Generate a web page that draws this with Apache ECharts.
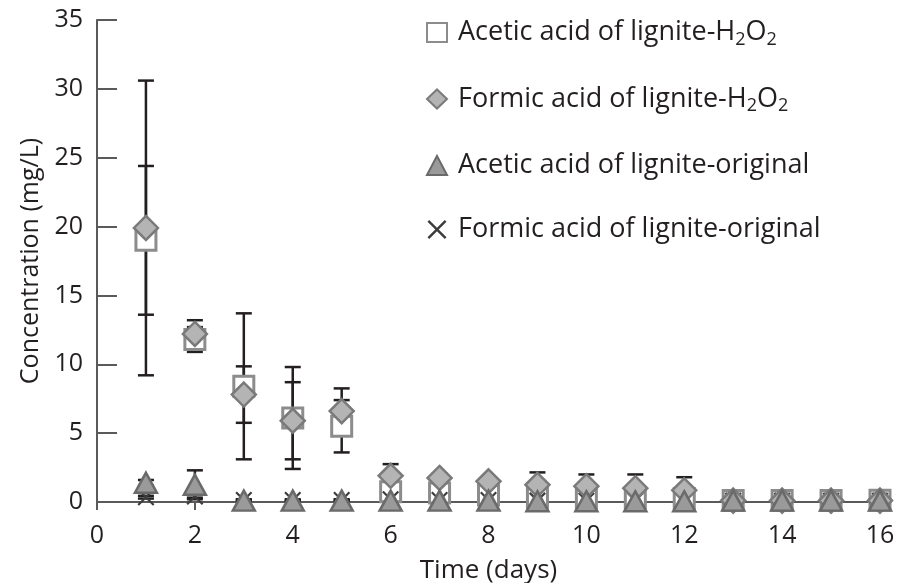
<!DOCTYPE html>
<html>
<head>
<meta charset="utf-8">
<script src="https://cdn.jsdelivr.net/npm/echarts@6/dist/echarts.min.js"></script>
<style>
  html, body { margin: 0; padding: 0; background: #fff; }
  #chart { width: 906px; height: 583px; }
</style>
</head>
<body>
<div id="chart"></div>
<script>
// Sampling days
const days = [1, 2, 3, 4, 5, 6, 7, 8, 9, 10, 11, 12, 13, 14, 15, 16];

// Acetic acid, lignite treated with H2O2 (mean, sd)
const aceticH2O2 = [19.0, 11.8, 8.4, 6.1, 5.5, 0.75, 0.65, 0.5, 0.35, 0.3, 0.3, 0.25, 0.1, 0.1, 0.1, 0.12];
const aceticH2O2Sd = [5.4, 0.9, 5.3, 3.7, 1.9, 0.3, 0.2, 0.2, 0.2, 0.2, 0.2, 0.2, 0.05, 0.05, 0.05, 0.05];

// Formic acid, lignite treated with H2O2 (mean, sd)
const formicH2O2 = [19.9, 12.2, 7.8, 5.9, 6.6, 1.9, 1.75, 1.5, 1.25, 1.15, 1.0, 0.85, 0.1, 0.1, 0.1, 0.1];
const formicH2O2Sd = [10.7, 1.0, 2.05, 2.8, 1.65, 0.85, 0.3, 0.3, 0.9, 0.85, 1.0, 0.95, 0.05, 0.05, 0.05, 0.05];

// Acetic acid, original lignite (mean, sd)
const aceticOrig = [1.4, 1.25, 0.1, 0.1, 0.1, 0.1, 0.1, 0.1, 0.05, 0.05, 0.05, 0.05, 0.1, 0.1, 0.1, 0.1];
const aceticOrigSd = [0.2, 1.05, 0.05, 0.05, 0.05, 0.05, 0.05, 0.05, 0.05, 0.05, 0.05, 0.05, 0.05, 0.05, 0.05, 0.05];

// Formic acid, original lignite (mean, sd)
const formicOrig = [0.35, 0.4, 0.15, 0.15, 0.15, 0.2, 0.15, 0.15, 0.1, 0.1, 0.1, 0.1, 0.1, 0.1, 0.1, 0.1];
const formicOrigSd = [0.1, 0.1, 0.05, 0.05, 0.05, 0.05, 0.05, 0.05, 0.05, 0.05, 0.05, 0.05, 0.05, 0.05, 0.05, 0.05];

// Axis ticks
const xTicks = { min: 0, max: 16, interval: 2 };
const yTicks = { min: 0, max: 35, interval: 5 };

const seriesNames = [
  'Acetic acid of lignite-H2O2',
  'Formic acid of lignite-H2O2',
  'Acetic acid of lignite-original',
  'Formic acid of lignite-original'
];

const FONT = '"Open Sans", "Noto Sans", sans-serif';
const TEXT = '#231f20';

function points(vals) {
  return days.map((d, i) => [d, vals[i]]);
}
function errRows(vals, sd) {
  return days.map((d, i) => [d, vals[i] - sd[i], vals[i] + sd[i]]);
}

function errorBarSeries(vals, sd) {
  return {
    type: 'custom',
    z: 1,
    silent: true,
    data: errRows(vals, sd),
    renderItem: function (params, api) {
      const x = api.value(0);
      const lo = api.coord([x, api.value(1)]);
      const hi = api.coord([x, api.value(2)]);
      const half = 8;
      const style = { stroke: '#231f20', lineWidth: 2.5 };
      return {
        type: 'group',
        children: [
          { type: 'line', shape: { x1: lo[0], y1: lo[1], x2: hi[0], y2: hi[1] }, style: style },
          { type: 'line', shape: { x1: hi[0] - half, y1: hi[1], x2: hi[0] + half, y2: hi[1] }, style: style },
          { type: 'line', shape: { x1: lo[0] - half, y1: lo[1], x2: lo[0] + half, y2: lo[1] }, style: style }
        ]
      };
    },
    encode: { x: 0, y: [1, 2] }
  };
}

const crossPath = 'path://M0,9 L9,0 L50,41 L91,0 L100,9 L59,50 L100,91 L91,100 L50,59 L9,100 L0,91 L41,50 Z';

const chart = echarts.init(document.getElementById('chart'));

chart.setOption({
  backgroundColor: '#ffffff',
  animation: false,
  textStyle: { fontFamily: FONT, color: TEXT },
  grid: { left: 97, right: 26, top: 20, bottom: 81, containLabel: false, outerBoundsMode: 'none' },
  legend: {
    orient: 'vertical',
    left: 421,
    top: 14,
    itemGap: 37,
    itemWidth: 20,
    itemHeight: 19,
    data: seriesNames,
    textStyle: {
      fontFamily: FONT,
      fontSize: 27,
      color: TEXT,
      padding: [0, 0, 0, 6],
      rich: {
        t: { fontFamily: FONT, fontSize: 27, color: TEXT },
        s: { fontFamily: FONT, fontSize: 18, color: TEXT, verticalAlign: 'bottom', padding: [14, 0, 0, 0] }
      }
    },
    formatter: function (name) {
      if (name.endsWith('H2O2')) {
        const base = name.slice(0, -4);
        return '{t|' + base + 'H}{s|2}{t|O}{s|2}';
      }
      return '{t|' + name + '}';
    }
  },
  xAxis: {
    type: 'value',
    min: xTicks.min,
    max: xTicks.max,
    interval: xTicks.interval,
    name: 'Time (days)',
    nameLocation: 'middle',
    nameGap: 56,
    nameTextStyle: { fontFamily: FONT, fontSize: 26, color: TEXT },
    axisLine: { lineStyle: { color: '#5a5a5a', width: 2 } },
    axisTick: { show: true, inside: false, length: 8, lineStyle: { color: '#5a5a5a', width: 2 } },
    axisLabel: { fontFamily: FONT, fontSize: 25, color: TEXT, margin: 21 },
    splitLine: { show: false }
  },
  yAxis: {
    type: 'value',
    min: yTicks.min,
    max: yTicks.max,
    interval: yTicks.interval,
    name: 'Concentration (mg/L)',
    nameLocation: 'middle',
    nameGap: 39,
    nameTextStyle: { fontFamily: FONT, fontSize: 25, color: TEXT },
    axisLine: { show: true, lineStyle: { color: '#5a5a5a', width: 2 } },
    axisTick: { show: true, inside: true, length: 20, lineStyle: { color: '#5a5a5a', width: 2 } },
    axisLabel: { fontFamily: FONT, fontSize: 25, color: TEXT, margin: 14 },
    splitLine: { show: false }
  },
  series: [
    errorBarSeries(aceticH2O2, aceticH2O2Sd),
    errorBarSeries(formicH2O2, formicH2O2Sd),
    errorBarSeries(aceticOrig, aceticOrigSd),
    errorBarSeries(formicOrig, formicOrigSd),
    {
      name: seriesNames[0],
      type: 'scatter',
      z: 2,
      symbol: 'rect',
      symbolSize: 20,
      data: points(aceticH2O2),
      itemStyle: { color: '#ffffff', borderColor: '#8c8c8c', borderWidth: 3, opacity: 1 }
    },
    {
      name: seriesNames[3],
      type: 'scatter',
      z: 3,
      symbol: crossPath,
      symbolSize: 17,
      data: points(formicOrig),
      itemStyle: { color: '#3c3c3c', opacity: 1 }
    },
    {
      name: seriesNames[1],
      type: 'scatter',
      z: 4,
      symbol: 'diamond',
      symbolSize: [24, 24],
      data: points(formicH2O2),
      itemStyle: { color: '#b4b4b4', borderColor: '#7a7a7a', borderWidth: 2.5, opacity: 1 }
    },
    {
      name: seriesNames[2],
      type: 'scatter',
      z: 5,
      symbol: 'triangle',
      symbolSize: [22, 20],
      data: points(aceticOrig),
      itemStyle: { color: '#9a9a9a', borderColor: '#6a6a6a', borderWidth: 2.5, opacity: 1 }
    }
  ]
});
</script>
</body>
</html>
